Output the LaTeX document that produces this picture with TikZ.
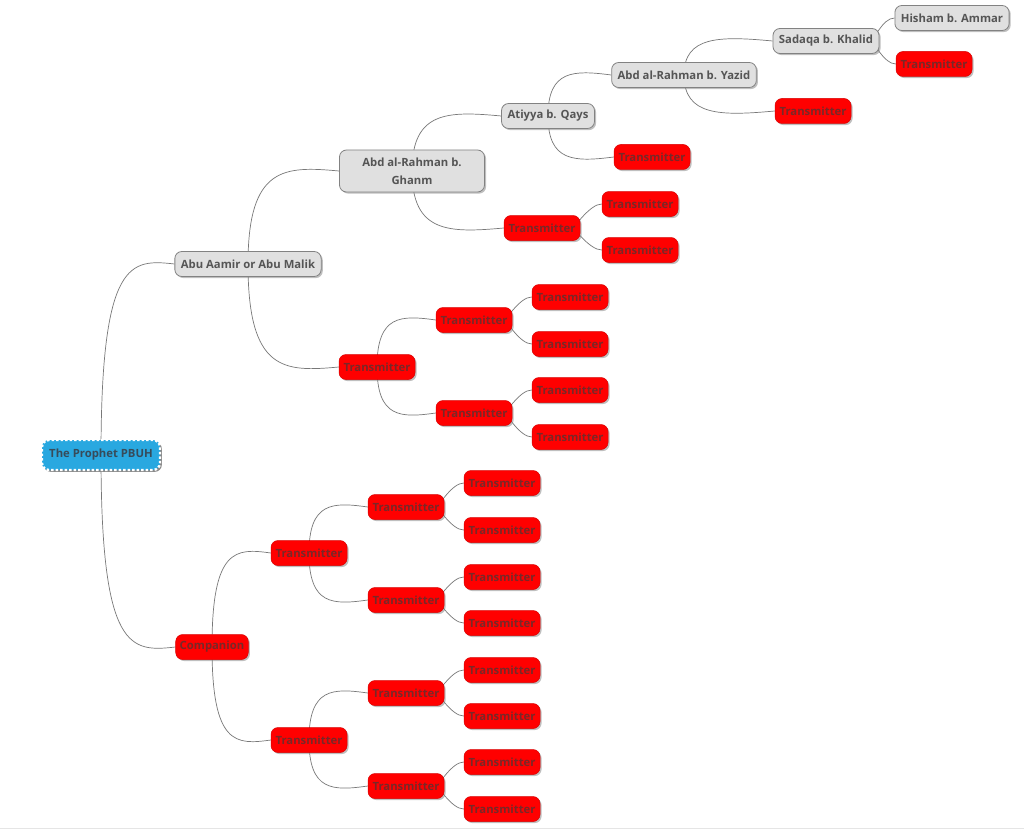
\documentclass[tikz,border=0pt]{standalone}
\usepackage{fontspec}
\setmainfont{Open Sans}
\usetikzlibrary{calc,shadows}
\definecolor{nodegray}{RGB}{224,224,224}
\definecolor{bordergray}{RGB}{130,130,130}
\definecolor{textgray}{RGB}{85,85,85}
\definecolor{redfill}{RGB}{255,0,0}
\definecolor{redtext}{RGB}{120,40,40}
\definecolor{rootblue}{RGB}{41,168,224}
\definecolor{roottext}{RGB}{55,75,90}
\definecolor{linegray}{RGB}{120,120,120}
\pgfdeclarelayer{bg}
\pgfsetlayers{bg,main}
% far child: leaves parent vertically, overshoots slightly, enters child from the left
\newcommand\mmlink[3]{\draw[conn] (#1.center) .. controls ($(#1.center |- #2.west)+(0,#3*5)$) and ($(#1.center |- #2.west)!0.4!(#2.west)+(0,#3*5)$) .. (#2.west);}
% near child: leaves parent near its right end
\newcommand\mmnear[2]{\draw[conn] ($(#1.east)+(-8,0)$) .. controls ($(#1.east)+(-6,0)$ |- #2.west) and ($(#2.west)+(-12,0)$) .. (#2.west);}
\begin{document}
\begin{tikzpicture}[x=1pt,y=-1pt,
  base/.style={rounded corners=7pt, minimum height=25pt, inner ysep=3pt, inner xsep=6pt,
    font=\bfseries\fontsize{11.3}{18}\selectfont,
    drop shadow={shadow xshift=1.6pt, shadow yshift=-1.6pt, opacity=0.5}},
  graynode/.style={base, fill=nodegray, draw=bordergray, line width=0.8pt, text=textgray},
  rednode/.style={base, fill=redfill, draw=red!85!black, line width=0.5pt, text=redtext, minimum width=76pt, inner xsep=4pt},
  rootnode/.style={base, fill=rootblue, draw=white, line width=2.4pt, dash pattern=on 2.5pt off 2pt,
    text=roottext, minimum height=30pt, minimum width=118pt,
    drop shadow={shadow xshift=1.8pt, shadow yshift=-1.8pt, opacity=0.85}},
  conn/.style={draw=linegray, line width=0.7pt}
]
\useasboundingbox (0,0) rectangle (1024,829);

% nodes
\node[rootnode] (root) at (101,455) {The Prophet PBUH};
\node[graynode] (abu) at (248,264) {Abu Aamir or Abu Malik};
\node[rednode, minimum width=71pt] (comp) at (212,647) {Companion};
\node[graynode, minimum width=145pt, minimum height=42pt, align=center] (ghanm) at (412,171) {Abd al-Rahman b.\\Ghanm};
\node[rednode] (t1) at (377,367) {Transmitter};
\node[graynode] (atiyya) at (548,116) {Atiyya b. Qays};
\node[rednode] (t2) at (542,228) {Transmitter};
\node[graynode] (yazid) at (684,75) {Abd al-Rahman b. Yazid};
\node[rednode] (ta) at (652,157) {Transmitter};
\node[graynode] (sadaqa) at (826,41) {Sadaqa b. Khalid};
\node[rednode] (ty) at (813,111) {Transmitter};
\node[graynode] (hisham) at (952,18) {Hisham b. Ammar};
\node[rednode] (ts) at (934,64) {Transmitter};
\node[rednode] (t2a) at (640,204) {Transmitter};
\node[rednode] (t2b) at (640,250) {Transmitter};
\node[rednode] (t1a) at (474,320) {Transmitter};
\node[rednode] (t1b) at (474,413) {Transmitter};
\node[rednode] (t1a1) at (570,297) {Transmitter};
\node[rednode] (t1a2) at (570,344) {Transmitter};
\node[rednode] (t1b1) at (570,390) {Transmitter};
\node[rednode] (t1b2) at (570,437) {Transmitter};
\node[rednode] (c1) at (309,553) {Transmitter};
\node[rednode] (c2) at (309,740) {Transmitter};
\node[rednode] (c1a) at (406,507) {Transmitter};
\node[rednode] (c1b) at (406,600) {Transmitter};
\node[rednode] (c2a) at (406,693) {Transmitter};
\node[rednode] (c2b) at (406,786) {Transmitter};
\node[rednode] (c1a1) at (502,483) {Transmitter};
\node[rednode] (c1a2) at (502,530) {Transmitter};
\node[rednode] (c1b1) at (502,577) {Transmitter};
\node[rednode] (c1b2) at (502,623) {Transmitter};
\node[rednode] (c2a1) at (502,670) {Transmitter};
\node[rednode] (c2a2) at (502,716) {Transmitter};
\node[rednode] (c2b1) at (502,762) {Transmitter};
\node[rednode] (c2b2) at (502,809) {Transmitter};

% background and connectors
\begin{pgfonlayer}{bg}
\fill[white] (0,0) rectangle (1024,829);
\draw[black!10, line width=1pt] (0,828) -- (1024,828);
\mmlink{root}{abu}{-1}
\mmlink{root}{comp}{1}
\mmlink{abu}{ghanm}{-1}
\mmlink{abu}{t1}{1}
\mmlink{ghanm}{atiyya}{-1}
\mmlink{ghanm}{t2}{1}
\mmlink{atiyya}{yazid}{-1}
\mmlink{atiyya}{ta}{1}
\mmlink{yazid}{sadaqa}{-1}
\mmlink{yazid}{ty}{1}
\mmlink{t1}{t1a}{-1}
\mmlink{t1}{t1b}{1}
\mmlink{comp}{c1}{-1}
\mmlink{comp}{c2}{1}
\mmlink{c1}{c1a}{-1}
\mmlink{c1}{c1b}{1}
\mmlink{c2}{c2a}{-1}
\mmlink{c2}{c2b}{1}
\mmnear{sadaqa}{hisham}
\mmnear{sadaqa}{ts}
\mmnear{t2}{t2a}
\mmnear{t2}{t2b}
\mmnear{t1a}{t1a1}
\mmnear{t1a}{t1a2}
\mmnear{t1b}{t1b1}
\mmnear{t1b}{t1b2}
\mmnear{c1a}{c1a1}
\mmnear{c1a}{c1a2}
\mmnear{c1b}{c1b1}
\mmnear{c1b}{c1b2}
\mmnear{c2a}{c2a1}
\mmnear{c2a}{c2a2}
\mmnear{c2b}{c2b1}
\mmnear{c2b}{c2b2}
\end{pgfonlayer}
\end{tikzpicture}
\end{document}
